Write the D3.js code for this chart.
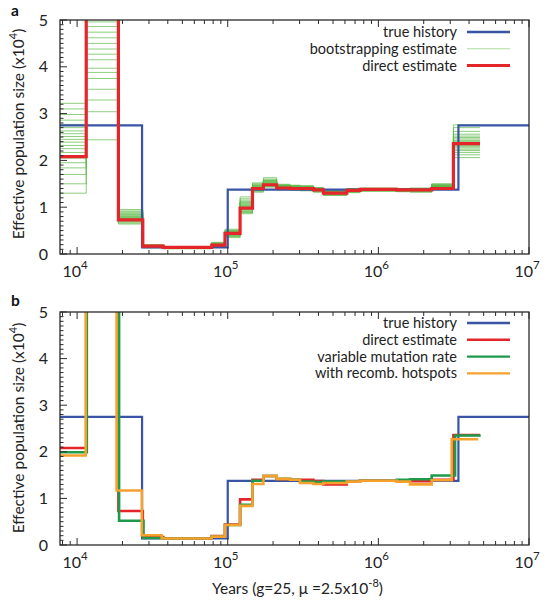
<!DOCTYPE html>
<html>
<head>
<meta charset="utf-8">
<script src="https://cdn.jsdelivr.net/npm/d3@7"></script>
<style>
  html, body { margin: 0; padding: 0; background: #fff; }
  svg { display: block; font-family: Lato, "Open Sans", sans-serif; }
</style>
</head>
<body>
<svg id="chart" width="548" height="600"></svg>
<script>
// ---------------- DATA ----------------
const xTickValues = [1e4, 1e5, 1e6, 1e7];
const xTickExponents = ["4", "5", "6", "7"];
const yTickValues = [0, 1, 2, 3, 4, 5];

// true history (units of 10^4)
const trueTimes = [7700, 27000, 100000, 3400000, 10000000];
const trueN = [2.75, 0.14, 1.375, 2.75];

// direct estimate
const directTimes = [7700, 11500, 18800, 27300, 37300, 78300, 95900, 120800, 146000, 172500, 211300, 259100, 302000, 370400, 431800, 616900, 755600, 1324000, 1623000, 2260000, 3150000, 4730000];
const directN = [2.08, 8, 0.73, 0.17, 0.14, 0.19, 0.44, 0.98, 1.40, 1.48, 1.41, 1.40, 1.40, 1.37, 1.30, 1.36, 1.38, 1.37, 1.37, 1.40, 2.36];

// variable mutation rate
const varMutTimes = [7700, 11600, 19000, 27600, 37300, 78300, 95900, 120800, 146000, 172500, 211300, 259100, 302000, 370400, 431800, 616900, 755600, 1324000, 1623000, 2260000, 3230000, 4780000];
const varMutN = [1.99, 8, 0.52, 0.15, 0.14, 0.18, 0.43, 0.86, 1.38, 1.48, 1.42, 1.40, 1.36, 1.35, 1.36, 1.36, 1.38, 1.40, 1.41, 1.49, 2.35];

// with recombination hotspots
const hotspotTimes = [7700, 11400, 18300, 26900, 36500, 78300, 95900, 120800, 146000, 172500, 211300, 259100, 302000, 370400, 431800, 616900, 755600, 1324000, 1623000, 2260000, 3070000, 4600000];
const hotspotN = [1.92, 8, 1.17, 0.21, 0.14, 0.18, 0.43, 0.84, 1.31, 1.48, 1.42, 1.40, 1.33, 1.31, 1.33, 1.36, 1.38, 1.36, 1.30, 1.39, 2.27];

// bootstrapping estimates: one row per time interval (same intervals as directTimes), one column per replicate
const bootstrapN = [
  [3.22, 3.10, 2.98, 2.86, 2.77, 2.70, 2.63, 2.57, 2.51, 2.45, 2.39, 2.32, 2.25, 2.17, 2.05, 1.95, 1.84, 1.70, 1.50, 1.30],
  [4.96, 4.86, 4.74, 4.62, 4.50, 4.38, 4.27, 4.15, 3.97, 3.88, 3.75, 3.52, 3.29, 3.04, 2.44, 5.4, 6.1, 5.8, 7.2, 5.2],
  [0.95, 0.92, 0.90, 0.88, 0.86, 0.84, 0.83, 0.81, 0.80, 0.78, 0.77, 0.76, 0.75, 0.74, 0.72, 0.71, 0.70, 0.68, 0.66, 0.64],
  [0.20, 0.19, 0.19, 0.18, 0.18, 0.18, 0.17, 0.17, 0.17, 0.17, 0.16, 0.16, 0.16, 0.16, 0.15, 0.15, 0.15, 0.14, 0.14, 0.13],
  [0.16, 0.15, 0.15, 0.15, 0.14, 0.14, 0.14, 0.14, 0.14, 0.13, 0.13, 0.13, 0.13, 0.13, 0.13, 0.12, 0.12, 0.12, 0.12, 0.11],
  [0.25, 0.24, 0.23, 0.22, 0.22, 0.21, 0.21, 0.20, 0.20, 0.19, 0.19, 0.19, 0.18, 0.18, 0.17, 0.17, 0.16, 0.16, 0.15, 0.14],
  [0.53, 0.51, 0.50, 0.49, 0.48, 0.47, 0.46, 0.45, 0.45, 0.44, 0.44, 0.43, 0.42, 0.42, 0.41, 0.40, 0.39, 0.38, 0.37, 0.35],
  [1.22, 1.18, 1.15, 1.12, 1.10, 1.08, 1.06, 1.04, 1.03, 1.01, 1.00, 0.98, 0.97, 0.95, 0.94, 0.92, 0.91, 0.89, 0.88, 0.86],
  [1.52, 1.50, 1.48, 1.47, 1.46, 1.45, 1.44, 1.43, 1.42, 1.41, 1.40, 1.40, 1.39, 1.38, 1.37, 1.37, 1.36, 1.35, 1.34, 1.32],
  [1.63, 1.60, 1.58, 1.57, 1.56, 1.55, 1.54, 1.53, 1.52, 1.51, 1.50, 1.49, 1.49, 1.48, 1.47, 1.47, 1.46, 1.45, 1.44, 1.43],
  [1.49, 1.48, 1.47, 1.46, 1.46, 1.45, 1.45, 1.44, 1.44, 1.43, 1.43, 1.42, 1.42, 1.41, 1.41, 1.40, 1.40, 1.39, 1.38, 1.37],
  [1.47, 1.46, 1.46, 1.45, 1.44, 1.44, 1.43, 1.43, 1.42, 1.42, 1.41, 1.41, 1.40, 1.40, 1.39, 1.39, 1.38, 1.38, 1.37, 1.36],
  [1.46, 1.45, 1.44, 1.44, 1.43, 1.43, 1.42, 1.42, 1.41, 1.41, 1.40, 1.40, 1.39, 1.39, 1.38, 1.38, 1.37, 1.37, 1.36, 1.35],
  [1.42, 1.41, 1.41, 1.40, 1.40, 1.39, 1.39, 1.38, 1.38, 1.38, 1.37, 1.37, 1.36, 1.36, 1.36, 1.35, 1.35, 1.34, 1.33, 1.32],
  [1.36, 1.35, 1.34, 1.34, 1.33, 1.33, 1.32, 1.32, 1.31, 1.31, 1.30, 1.30, 1.30, 1.29, 1.29, 1.28, 1.28, 1.27, 1.26, 1.25],
  [1.40, 1.39, 1.39, 1.38, 1.38, 1.37, 1.37, 1.37, 1.36, 1.36, 1.36, 1.35, 1.35, 1.35, 1.34, 1.34, 1.33, 1.33, 1.32, 1.31],
  [1.41, 1.40, 1.40, 1.40, 1.39, 1.39, 1.39, 1.38, 1.38, 1.38, 1.38, 1.37, 1.37, 1.37, 1.36, 1.36, 1.36, 1.35, 1.35, 1.34],
  [1.40, 1.40, 1.39, 1.39, 1.39, 1.38, 1.38, 1.38, 1.37, 1.37, 1.37, 1.36, 1.36, 1.36, 1.35, 1.35, 1.35, 1.34, 1.34, 1.33],
  [1.41, 1.40, 1.40, 1.39, 1.39, 1.38, 1.38, 1.38, 1.37, 1.37, 1.37, 1.36, 1.36, 1.36, 1.35, 1.35, 1.34, 1.34, 1.33, 1.32],
  [1.50, 1.49, 1.48, 1.47, 1.46, 1.46, 1.45, 1.45, 1.44, 1.44, 1.43, 1.43, 1.42, 1.42, 1.41, 1.41, 1.40, 1.40, 1.39, 1.38],
  [2.76, 2.70, 2.62, 2.56, 2.52, 2.49, 2.46, 2.43, 2.41, 2.39, 2.37, 2.35, 2.32, 2.30, 2.27, 2.24, 2.21, 2.17, 2.12, 2.06]
];

const legendA = ["true history", "bootstrapping estimate", "direct estimate"];
const legendB = ["true history", "direct estimate", "variable mutation rate", "with recomb. hotspots"];

// ---------------- STYLE ----------------
const C = {
  blue: "#3a54a5", red: "#e4262b", boot: "#5cb947", bootLegend: "#a9dc9a",
  green: "#1f9a4b", orange: "#f6a12d", frame: "#2a2a2a", text: "#222"
};
const LEG_FS = 14.5, LEG_STEP = 16.8;

const svg = d3.select("#chart");
const X0 = 60, X1 = 529;
const x = d3.scaleLog().domain([7700, 1e7]).range([X0, X1]);

function stepData(times, vals) {
  const pts = vals.map((v, i) => [times[i], v]);
  pts.push([times[times.length - 1], vals[vals.length - 1]]);
  return pts;
}

function panel(id, top, bottom, label, labelY, ylabCenter) {
  const y = d3.scaleLinear().domain([0, 5]).range([bottom, top]);
  const g = svg.append("g");
  g.append("clipPath").attr("id", "clip" + id)
    .append("rect").attr("x", X0).attr("y", top).attr("width", X1 - X0).attr("height", bottom - top);
  const plot = g.append("g").attr("clip-path", `url(#clip${id})`);
  const line = d3.line().x(d => x(d[0])).y(d => y(d[1])).curve(d3.curveStepAfter);

  // ticks
  const tk = g.append("g").attr("stroke", C.frame).attr("stroke-width", 1);
  const minorX = [];
  for (let e = 3; e < 7; e++) for (let m = 2; m <= 9; m++) { const v = m * Math.pow(10, e); if (v > 7700 && v < 1e7) minorX.push(v); }
  minorX.forEach(v => {
    tk.append("line").attr("x1", x(v)).attr("x2", x(v)).attr("y1", bottom).attr("y2", bottom - 4);
    tk.append("line").attr("x1", x(v)).attr("x2", x(v)).attr("y1", top).attr("y2", top + 4);
  });
  xTickValues.forEach(v => {
    tk.append("line").attr("x1", x(v)).attr("x2", x(v)).attr("y1", bottom).attr("y2", bottom - 7);
    tk.append("line").attr("x1", x(v)).attr("x2", x(v)).attr("y1", top).attr("y2", top + 7);
  });
  d3.range(0, 51).forEach(k => {
    const v = k / 10;
    const len = (k % 10 === 0) ? 7 : 3.5;
    tk.append("line").attr("x1", X0).attr("x2", X0 + len).attr("y1", y(v)).attr("y2", y(v));
  });

  // frame
  g.append("rect").attr("x", X0).attr("y", top).attr("width", X1 - X0).attr("height", bottom - top)
    .attr("fill", "none").attr("stroke", C.frame).attr("stroke-width", 1.3);

  // y tick labels
  g.selectAll(".yl").data(yTickValues).enter().append("text")
    .attr("x", 48).attr("y", d => y(d) + 5.5).attr("text-anchor", "end")
    .attr("font-size", 16).attr("fill", C.text).text(d => d);

  // x tick labels
  xTickValues.forEach((v, i) => {
    const t = g.append("text").attr("x", x(v) - 2).attr("y", bottom + 23).attr("text-anchor", "middle")
      .attr("font-size", 16).attr("fill", C.text);
    t.append("tspan").text("10");
    t.append("tspan").attr("dy", -8).attr("font-size", 11.5).text(xTickExponents[i]);
  });

  // y axis label
  const yl = g.append("text").attr("transform", `translate(24,${ylabCenter}) rotate(-90)`)
    .attr("text-anchor", "middle").attr("font-size", 15.5).attr("fill", C.text);
  yl.append("tspan").text("Effective population size (x10");
  yl.append("tspan").attr("dy", -7).attr("font-size", 11).text("4");
  yl.append("tspan").attr("dy", 7).text(")");

  // panel label
  g.append("text").attr("x", 11).attr("y", labelY).attr("font-size", 15.5).attr("font-weight", "bold")
    .attr("fill", "#111").text(label);

  return { g, plot, y, line };
}

// ---------------- PANEL A ----------------
const A = panel("a", 20, 254, "a", 16, 134);
const nRep = bootstrapN[0].length;
d3.range(nRep).forEach(r => {
  const vals = bootstrapN.map(row => row[r]);
  A.plot.append("path").datum(stepData(directTimes, vals)).attr("d", A.line)
    .attr("fill", "none").attr("stroke", C.boot).attr("stroke-width", 1).attr("stroke-opacity", 0.7);
});
A.plot.append("path").datum(stepData(trueTimes, trueN)).attr("d", A.line)
  .attr("fill", "none").attr("stroke", C.blue).attr("stroke-width", 2.2);
A.plot.append("path").datum(stepData(directTimes, directN)).attr("d", A.line)
  .attr("fill", "none").attr("stroke", C.red).attr("stroke-width", 3.2);

const legAStyles = [[C.blue, 2.4], [C.bootLegend, 1], [C.red, 3]];
legendA.forEach((t, i) => {
  const yy = 32 + i * LEG_STEP;
  A.g.append("text").attr("x", 457).attr("y", yy + 5).attr("text-anchor", "end")
    .attr("font-size", LEG_FS).attr("fill", C.text).text(t);
  A.g.append("line").attr("x1", 467).attr("x2", 510).attr("y1", yy).attr("y2", yy)
    .attr("stroke", legAStyles[i][0]).attr("stroke-width", legAStyles[i][1]);
});

// ---------------- PANEL B ----------------
const B = panel("b", 312, 545, "b", 306, 428);
const seriesB = [
  [trueTimes, trueN, C.blue, 2.2],
  [directTimes, directN, C.red, 2.6],
  [varMutTimes, varMutN, C.green, 2.6],
  [hotspotTimes, hotspotN, C.orange, 2.6]
];
seriesB.forEach(s => {
  B.plot.append("path").datum(stepData(s[0], s[1])).attr("d", B.line)
    .attr("fill", "none").attr("stroke", s[2]).attr("stroke-width", s[3]);
});
legendB.forEach((t, i) => {
  const yy = 323 + i * LEG_STEP;
  B.g.append("text").attr("x", 457).attr("y", yy + 5).attr("text-anchor", "end")
    .attr("font-size", LEG_FS).attr("fill", C.text).text(t);
  B.g.append("line").attr("x1", 467).attr("x2", 510).attr("y1", yy).attr("y2", yy)
    .attr("stroke", seriesB[i][2]).attr("stroke-width", 2.4);
});

// x axis title
const xt = svg.append("text").attr("x", 212).attr("y", 594).attr("font-size", 15.5).attr("fill", C.text);
xt.append("tspan").text("Years (g=25, \u03BC =2.5x10");
xt.append("tspan").attr("dy", -7).attr("font-size", 11).text("-8");
xt.append("tspan").attr("dy", 7).text(")");
</script>
</body>
</html>
